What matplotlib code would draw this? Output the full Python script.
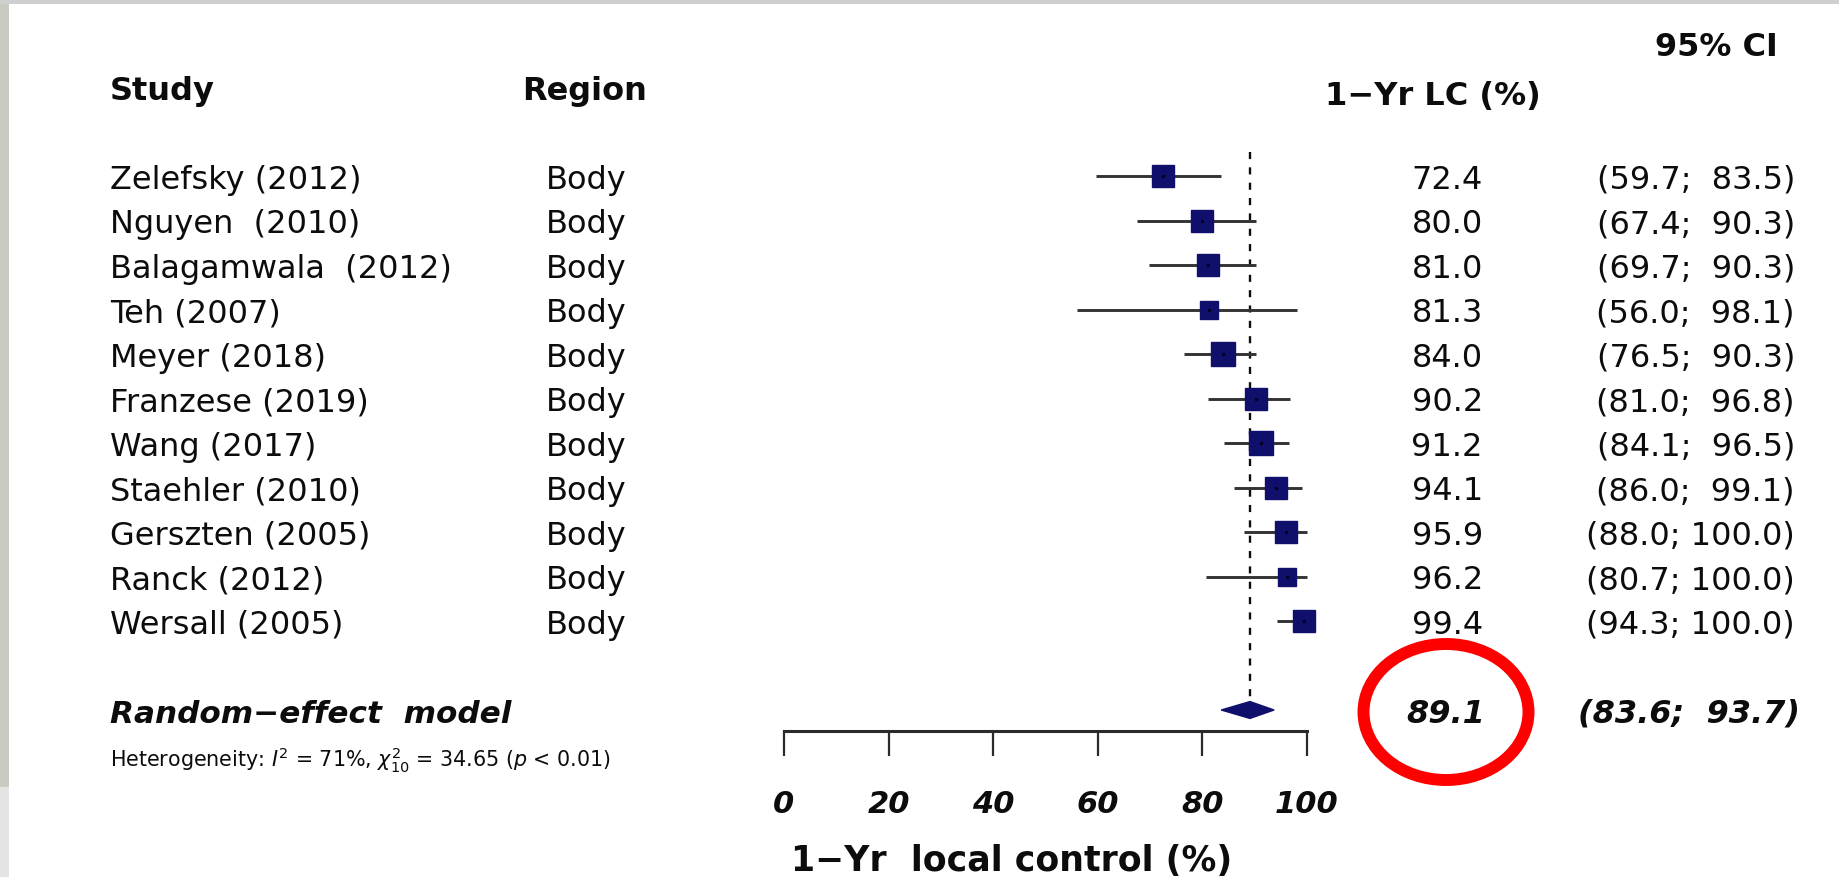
import matplotlib
matplotlib.use("Agg")
import numpy as np
import matplotlib.pyplot as plt
from matplotlib import transforms
from matplotlib.patches import Ellipse, Rectangle, Polygon

# ---- data -------------------------------------------------------------
studies = ["Zelefsky (2012)", "Nguyen  (2010)", "Balagamwala  (2012)", "Teh (2007)",
           "Meyer (2018)", "Franzese (2019)", "Wang (2017)", "Staehler (2010)",
           "Gerszten (2005)", "Ranck (2012)", "Wersall (2005)"]
regions = ["Body"] * 11
lc = [72.4, 80.0, 81.0, 81.3, 84.0, 90.2, 91.2, 94.1, 95.9, 96.2, 99.4]
ci_lo = [59.7, 67.4, 69.7, 56.0, 76.5, 81.0, 84.1, 86.0, 88.0, 80.7, 94.3]
ci_hi = [83.5, 90.3, 90.3, 98.1, 90.3, 96.8, 96.5, 99.1, 100.0, 100.0, 100.0]
weights = [9.4, 9.4, 9.4, 5.8, 11.1, 9.4, 10.3, 9.4, 9.4, 6.4, 9.4]
pooled, pooled_lo, pooled_hi = 89.1, 83.6, 93.7
x_ticks = [0, 20, 40, 60, 80, 100]
heterogeneity = r"Heterogeneity: $I^2$ = 71%, $\chi^2_{10}$ = 34.65 ($p$ < 0.01)"

# ---- style ------------------------------------------------------------
plt.rcParams['font.family'] = ['DejaVu Sans']
plt.rcParams['mathtext.fontset'] = 'dejavusans'
INK = '#0c0c0c'
NAVY = '#10106c'
FS = 23

W, H = 1840, 878
fig = plt.figure(figsize=(W / 100, H / 100), dpi=100)
fig.patch.set_facecolor('white')

# slide edge texture on the left and top
fig.add_artist(Rectangle((0, 0), 9 / W, 1, transform=fig.transFigure,
                         facecolor='#c8cbc2', edgecolor='none', zorder=0))
fig.add_artist(Rectangle((0, 0), 9 / W, 90 / H, transform=fig.transFigure,
                         facecolor='#e4e4e2', edgecolor='none', zorder=0))
fig.add_artist(Rectangle((0, 1 - 5 / H), 1, 5 / H, transform=fig.transFigure,
                         facecolor='#cdd0cf', edgecolor='none', zorder=0))

# forest panel: x in percent, y in row index (top row = 0)
row0, step = 177.0, 44.5
ax = fig.add_axes([784 / W, (H - 732) / H, 523 / W, 732 / H])
ax.set_xlim(0, 100)
ax.set_ylim((732 - row0) / step, -row0 / step)
ax.patch.set_visible(False)
for s in ('left', 'top', 'right'):
    ax.spines[s].set_visible(False)
ax.spines['bottom'].set_linewidth(2.2)
ax.spines['bottom'].set_color('#2a2a2a')
ax.set_yticks([])
ax.set_xticks(x_ticks)
ax.set_xticklabels([str(t) for t in x_ticks], fontweight='bold', fontstyle='italic', fontsize=22)
ax.tick_params(axis='x', length=18, width=1.6, color='#2a2a2a', pad=24, labelcolor=INK)
ax.set_xlabel("1\u2212Yr  local control (%)", fontweight='bold', fontsize=25, labelpad=18,
              color=INK, x=0.435)

rows = np.arange(len(studies))
summary_row = len(studies) + 1

# confidence intervals, boxes
for r, v, lo, hi, w in zip(rows, lc, ci_lo, ci_hi, weights):
    ax.plot([lo, hi], [r, r], color='#333333', lw=2.1, solid_capstyle='butt', clip_on=False, zorder=2)
    ax.plot([v], [r], marker='s', ms=7.5 * np.sqrt(w) * 0.72, color=NAVY, mec=NAVY,
            clip_on=False, zorder=3)
    ax.plot([v], [r], marker='.', ms=3, color='#000020', clip_on=False, zorder=4)

# pooled estimate line and diamond
ax.plot([pooled, pooled], [-0.54, summary_row - 0.2], color=INK, lw=1.7,
        dashes=(3, 3.5), clip_on=False, zorder=1)
h = 0.19
ax.add_patch(Polygon([[pooled_lo, summary_row], [pooled, summary_row - h],
                      [pooled_hi, summary_row], [pooled, summary_row + h]],
                     closed=True, facecolor=NAVY, edgecolor=NAVY, lw=1, clip_on=False, zorder=3))

# text columns: x in figure pixels, y in row index, baseline shifted under row centre
blend = transforms.blended_transform_factory(fig.transFigure, ax.transData)
rowtext = transforms.offset_copy(blend, fig=fig, y=-8.3, units='points')


def col(xpx, y, s, ha='left', **kw):
    kw.setdefault('fontsize', FS)
    kw.setdefault('color', INK)
    fig.text(xpx / W, y, s, transform=rowtext, ha=ha, va='baseline', **kw)


header_row = -2.0
col(110, header_row, "Study", fontweight='bold')
col(522, header_row, "Region", fontweight='bold')
col(1325, header_row + 0.12, "1\u2212Yr LC (%)", fontweight='bold')
col(1655, -2.98, "95% CI", fontweight='bold')

for r, name, reg, v, lo, hi in zip(rows, studies, regions, lc, ci_lo, ci_hi):
    col(110, r, name)
    col(546, r, reg)
    col(1483, r, f"{v:.1f}", ha='right')
    col(1795, r, f"({lo:.1f}; {hi:5.1f})", ha='right')

col(110, summary_row, "Random\u2212effect  model", fontweight='bold', fontstyle='italic', fontsize=22.4)
col(1485, summary_row, f"{pooled:.1f}", ha='right', fontweight='bold', fontstyle='italic')
col(1800, summary_row, f"({pooled_lo:.1f}; {pooled_hi:5.1f})", ha='right',
    fontweight='bold', fontstyle='italic')
col(110, summary_row + 1.0, heterogeneity, fontsize=14.9)

# red highlight around the pooled estimate
fig.add_artist(Ellipse((1446 / W, 1 - 713 / H), 165 / W, 136 / H, transform=fig.transFigure,
                       fill=False, edgecolor='#ff0000', lw=8.6, zorder=10))

fig.savefig("out.png", dpi=100)
